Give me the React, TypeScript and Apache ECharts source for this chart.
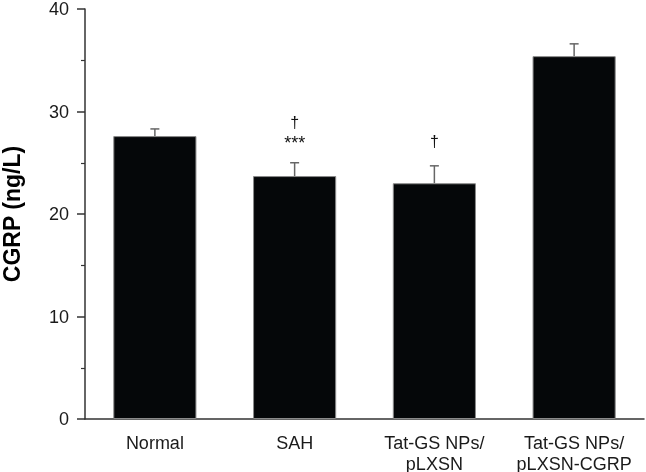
import React, { useEffect, useRef } from "react";
import * as echarts from "echarts";

const categories = ["Normal", "SAH", "Tat-GS NPs/\npLXSN", "Tat-GS NPs/\npLXSN-CGRP"];
const means = [27.6, 23.7, 23.0, 35.4];
const errors = [0.7, 1.3, 1.7, 1.2];
const annCategoryIndex = [1, 1, 2];
const annValue = [28.9, 26.9, 27.1];
const annText = ["†", "***", "†"];
const yTicks = { min: 0, max: 40, interval: 10 };

export default function App() {
  const ref = useRef<HTMLDivElement>(null);
  useEffect(() => {
    if (!ref.current) return;
    const chart = echarts.init(ref.current, undefined, { renderer: "svg" });
    const font = "'Liberation Sans', Arial, sans-serif";
    chart.setOption({
      animation: false,
      grid: { left: 85, right: 2, top: 9, bottom: 53, outerBoundsMode: "none", containLabel: false },
      xAxis: {
        type: "category",
        data: categories,
        axisLine: { lineStyle: { color: "#333", width: 1.5 } },
        axisTick: { show: false },
        axisLabel: { fontSize: 18, color: "#1a1a1a", fontFamily: font, margin: 13, lineHeight: 21, interval: 0 },
      },
      yAxis: {
        type: "value",
        min: yTicks.min,
        max: yTicks.max,
        interval: yTicks.interval,
        name: "CGRP (ng/L)",
        nameLocation: "middle",
        nameGap: 62,
        nameTextStyle: { fontSize: 23, fontWeight: "bold", color: "#000", fontFamily: font },
        axisLine: { show: true, lineStyle: { color: "#333", width: 1.5 } },
        axisTick: { show: true, length: 8, lineStyle: { color: "#333", width: 1.5 } },
        minorTick: { show: true, splitNumber: 2, length: 4, lineStyle: { color: "#333", width: 1.2 } },
        splitLine: { show: false },
        axisLabel: { fontSize: 18, color: "#1a1a1a", fontFamily: font, margin: 16, lineHeight: 18 },
      },
      series: [
        {
          type: "bar",
          data: means,
          barWidth: "59.5%",
          itemStyle: { color: "#050709", borderColor: "#8a8a8a", borderWidth: 1 },
          z: 2,
        },
        {
          type: "custom",
          data: means.map((m, i) => [i, m, m + errors[i]]),
          z: 1,
          renderItem: (params: any, api: any) => {
            const i = api.value(0);
            const p0 = api.coord([i, api.value(1)]);
            const p1 = api.coord([i, api.value(2)]);
            const hw = 4.5;
            const style = { stroke: "#666", lineWidth: 1.5 };
            return {
              type: "group",
              children: [
                { type: "line", shape: { x1: p0[0], y1: p0[1], x2: p1[0], y2: p1[1] }, style },
                { type: "line", shape: { x1: p1[0] - hw, y1: p1[1], x2: p1[0] + hw, y2: p1[1] }, style },
              ],
            };
          },
        },
        {
          type: "custom",
          data: annCategoryIndex.map((c, i) => [c, annValue[i], i]),
          z: 3,
          renderItem: (params: any, api: any) => {
            const p = api.coord([api.value(0), api.value(1)]);
            const t = annText[api.value(2)];
            return {
              type: "text",
              x: p[0],
              y: p[1],
              style: {
                text: t,
                fontSize: t === "***" ? 18 : 16,
                fontFamily: font,
                fill: "#111",
                align: "center",
                verticalAlign: "middle",
              },
            };
          },
        },
      ],
    });
    return () => chart.dispose();
  }, []);
  return <div ref={ref} style={{ position: "fixed", left: 0, top: 0, width: 646, height: 472 }} />;
}
